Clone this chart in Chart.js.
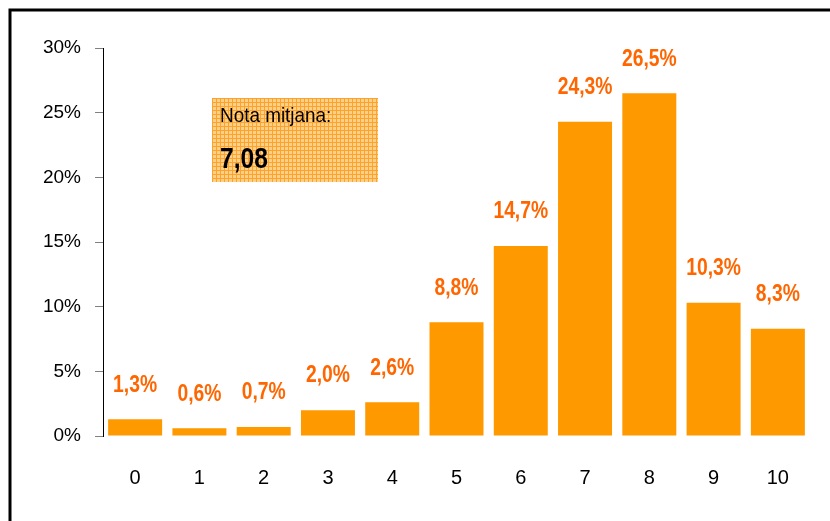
<!DOCTYPE html>
<html>
<head>
<meta charset="utf-8">
<script src="https://cdn.jsdelivr.net/npm/chart.js@4.4.1/dist/chart.umd.min.js"></script>
<style>
  html, body { margin: 0; padding: 0; background: #fff; }
  #wrap { width: 830px; height: 521px; position: relative; }
</style>
</head>
<body>
<div id="wrap"><canvas id="notesChart" width="830" height="521"></canvas></div>
<script>
// chart data
const categories = ['0', '1', '2', '3', '4', '5', '6', '7', '8', '9', '10'];
const percentages = [1.3, 0.6, 0.7, 2.0, 2.6, 8.8, 14.7, 24.3, 26.5, 10.3, 8.3];
const yTicks = [0, 5, 10, 15, 20, 25, 30];
const averageLabel = 'Nota mitjana:';
const averageValue = '7,08';

const BAR = '#FF9900';
const LABEL = '#FF6600';
const SANS = '"Liberation Sans", Arial, sans-serif';

function fmt(v) {
    return v.toFixed(1).replace('.', ',') + '%';
}

// draw text squeezed sideways (the original uses a narrow face)
function narrowText(ctx, text, x, y, squeeze) {
    ctx.save();
    ctx.translate(x, y);
    ctx.scale(squeeze, 1);
    ctx.fillText(text, 0, 0);
    ctx.restore();
}

// frame lines round the picture (top + left only)
const framePlugin = {
    id: 'frame',
    afterDraw(chart) {
        const ctx = chart.ctx;
        ctx.save();
        ctx.strokeStyle = '#000';
        ctx.lineWidth = 3;
        ctx.beginPath();
        ctx.moveTo(10, chart.height);
        ctx.lineTo(10, 10);
        ctx.lineTo(chart.width, 10);
        ctx.stroke();
        ctx.restore();
    }
};

// the "Nota mitjana" box with its grid paper fill
const averageBoxPlugin = {
    id: 'averageBox',
    beforeDatasetsDraw(chart) {
        const ctx = chart.ctx;
        const area = chart.chartArea;
        const x = area.left + 109, y = area.top + 50, w = 166, h = 84;

        const tile = document.createElement('canvas');
        tile.width = 4; tile.height = 4;
        const t = tile.getContext('2d');
        t.fillStyle = '#FFD08A';
        t.fillRect(0, 0, 4, 4);
        t.fillStyle = '#FFA229';
        t.fillRect(0, 0, 4, 1);
        t.fillRect(0, 0, 1, 4);

        ctx.save();
        ctx.translate(x, y);
        ctx.fillStyle = ctx.createPattern(tile, 'repeat');
        ctx.fillRect(0, 0, w, h);
        ctx.fillStyle = '#000';
        ctx.textAlign = 'left';
        ctx.textBaseline = 'alphabetic';
        ctx.font = '21px ' + SANS;
        narrowText(ctx, averageLabel, 8, 24, 0.9);
        ctx.font = 'bold 30px ' + SANS;
        narrowText(ctx, averageValue, 8, 70, 0.82);
        ctx.restore();
    }
};

// value labels above bars
const valueLabelPlugin = {
    id: 'valueLabels',
    afterDatasetsDraw(chart) {
        const ctx = chart.ctx;
        const meta = chart.getDatasetMeta(0);
        ctx.save();
        ctx.fillStyle = LABEL;
        ctx.font = 'bold 23px ' + SANS;
        ctx.textAlign = 'center';
        ctx.textBaseline = 'middle';
        meta.data.forEach((bar, i) => {
            narrowText(ctx, fmt(percentages[i]), bar.x, bar.y - 34, 0.84);
        });
        ctx.restore();
    }
};

new Chart(document.getElementById('notesChart').getContext('2d'), {
    type: 'bar',
    data: {
        labels: categories,
        datasets: [{
            data: percentages,
            backgroundColor: BAR,
            borderWidth: 0,
            barPercentage: 0.84,
            categoryPercentage: 1.0
        }]
    },
    options: {
        responsive: false,
        animation: false,
        layout: { padding: { top: 48, right: 20, left: 0, bottom: 0 } },
        plugins: {
            legend: { display: false },
            tooltip: { enabled: false }
        },
        scales: {
            x: {
                grid: { display: false, drawTicks: false },
                border: { display: false },
                ticks: { color: '#000', font: { size: 20, family: SANS }, padding: 30 },
                afterFit(scale) { scale.height = 85; }
            },
            y: {
                min: 0,
                max: 30,
                afterBuildTicks(scale) {
                    scale.ticks = yTicks.map(v => ({ value: v }));
                },
                grid: { display: true, drawOnChartArea: false, tickLength: 8, color: '#808080' },
                border: { display: true, color: '#000', width: 1 },
                ticks: {
                    color: '#000',
                    font: { size: 19, family: SANS },
                    padding: 14,
                    callback: v => v + '%'
                },
                afterFit(scale) { scale.width = 103; }
            }
        }
    },
    plugins: [averageBoxPlugin, valueLabelPlugin, framePlugin]
});
</script>
</body>
</html>
